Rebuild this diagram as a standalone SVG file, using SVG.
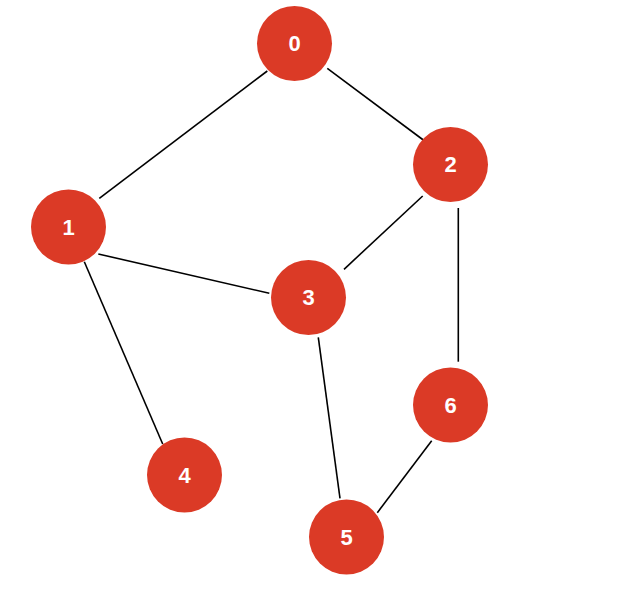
<svg xmlns="http://www.w3.org/2000/svg" width="618" height="614" viewBox="0 0 618 614">
<style>
.edge{stroke:#000;stroke-width:1.6;fill:none}
.node circle{fill:#db3a26}
.node text{fill:#fff;font-family:"Liberation Sans",Arial,sans-serif;font-weight:bold;font-size:22px;text-anchor:middle;dominant-baseline:central}
</style>
<rect width="618" height="614" fill="#fff"/>
<g id="edges">
<line class="edge" x1="267.3" y1="71" x2="99.3" y2="198.3"/>
<line class="edge" x1="327.3" y1="68.3" x2="423.3" y2="140"/>
<line class="edge" x1="98.3" y1="254" x2="269.3" y2="293.3"/>
<line class="edge" x1="84.3" y1="261.7" x2="162.7" y2="444"/>
<line class="edge" x1="344" y1="269.3" x2="422.7" y2="196"/>
<line class="edge" x1="458.3" y1="208" x2="458.3" y2="361.7"/>
<line class="edge" x1="318.3" y1="337.3" x2="340" y2="498.3"/>
<line class="edge" x1="377.3" y1="512.7" x2="431.7" y2="440.7"/>
</g>
<g id="node0" class="node"><circle cx="294.5" cy="43.5" r="37.5"/><text x="294.5" y="43.5">0</text></g>
<g id="node1" class="node"><circle cx="68.5" cy="227" r="37.5"/><text x="68.5" y="227">1</text></g>
<g id="node2" class="node"><circle cx="450.5" cy="164.5" r="37.5"/><text x="450.5" y="164.5">2</text></g>
<g id="node3" class="node"><circle cx="308.5" cy="297.5" r="37.5"/><text x="308.5" y="297.5">3</text></g>
<g id="node4" class="node"><circle cx="184.5" cy="475" r="37.5"/><text x="184.5" y="475">4</text></g>
<g id="node5" class="node"><circle cx="346.5" cy="537" r="37.5"/><text x="346.5" y="537">5</text></g>
<g id="node6" class="node"><circle cx="450.5" cy="405" r="37.5"/><text x="450.5" y="405">6</text></g>
</svg>
